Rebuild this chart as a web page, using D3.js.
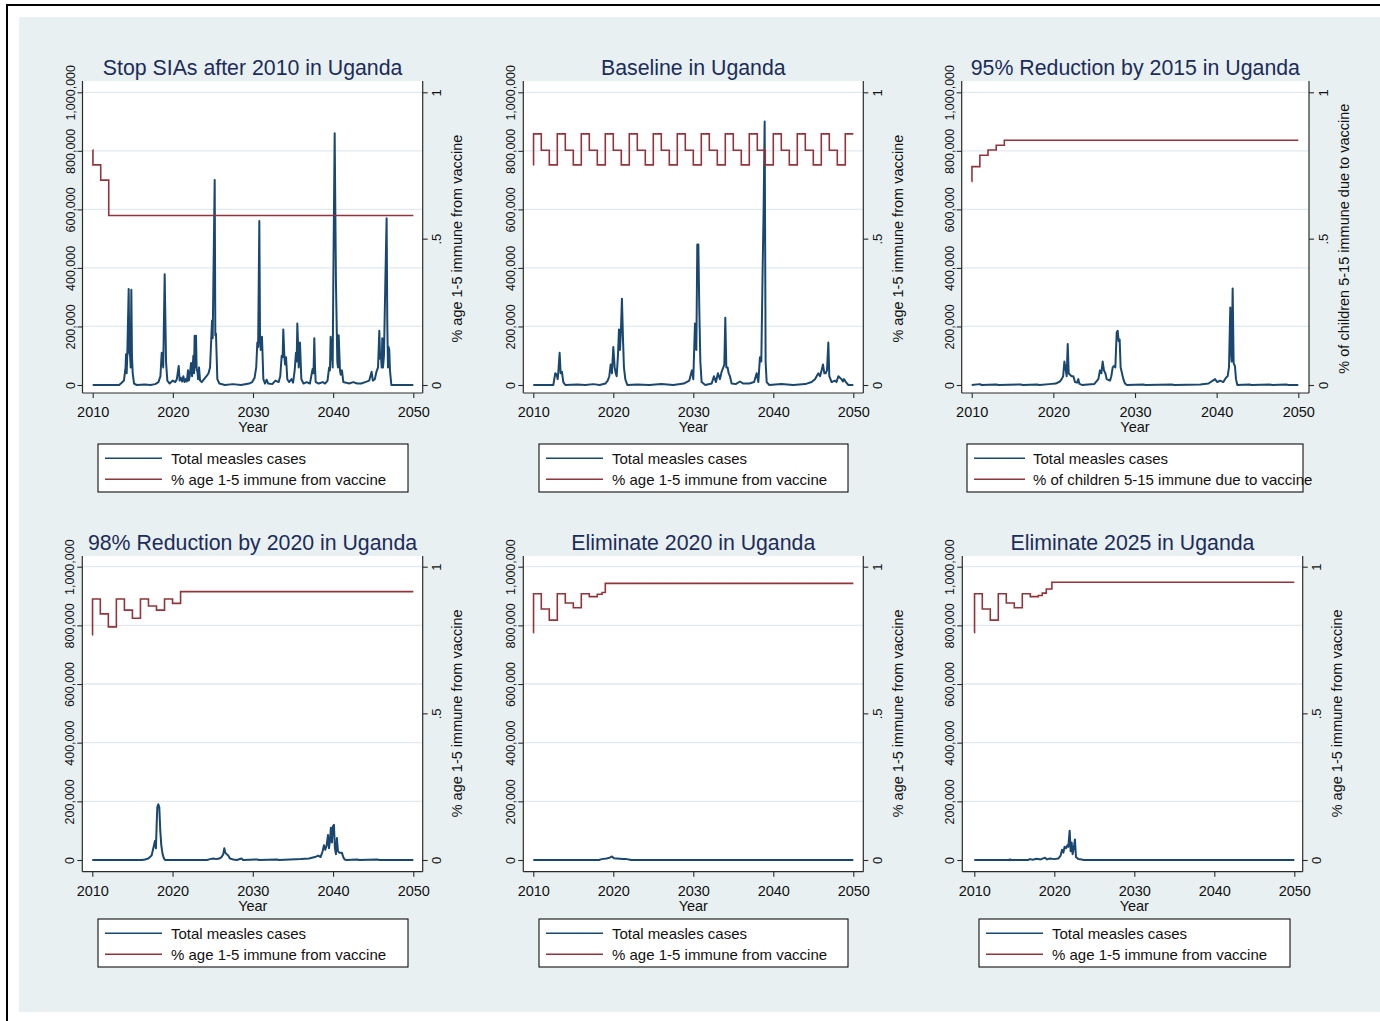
<!DOCTYPE html>
<html>
<head>
<meta charset="utf-8">
<script src="https://cdn.jsdelivr.net/npm/d3@7"></script>
<style>
  body { margin: 0; background: #fff; }
  text { font-family: "Liberation Sans", Arial, Helvetica, sans-serif; }
</style>
</head>
<body>
<svg id="chart" width="1380" height="1021"></svg>
<script>
// ---- axis ticks and labels ----
const yearTicks = [2010, 2020, 2030, 2040, 2050];
const caseTicks = [0, 200000, 400000, 600000, 800000, 1000000];
const shareTicks = [0, 0.5, 1];
const shareTickLabels = ["0", ".5", "1"];
const xAxisTitle = "Year";

const panelTitles = [
  "Stop SIAs after 2010 in Uganda",
  "Baseline in Uganda",
  "95% Reduction by 2015 in Uganda",
  "98% Reduction by 2020 in Uganda",
  "Eliminate 2020 in Uganda",
  "Eliminate 2025 in Uganda"
];
const casesLabel = "Total measles cases";
const immuneLabels = [
  "% age 1-5 immune from vaccine",
  "% age 1-5 immune from vaccine",
  "% of children 5-15 immune due to vaccine",
  "% age 1-5 immune from vaccine",
  "% age 1-5 immune from vaccine",
  "% age 1-5 immune from vaccine"
];

// ---- total measles cases, [year, cases] ----
const casesStopSIAs = [
  [2010,0],[2013.3,0],[2013.62,8000],[2013.9,15000],[2014.1,60000],[2014.16,105000],[2014.24,40000],
  [2014.32,110000],[2014.49,328000],[2014.57,110000],[2014.66,100000],[2014.74,60000],[2014.82,325000],
  [2014.9,100000],[2014.99,40000],[2015.16,5000],[2015.5,0],[2016.5,2000],[2017.2,0],[2017.8,3000],
  [2018.2,10000],[2018.45,30000],[2018.61,110000],[2018.8,60000],[2018.98,378000],[2019.15,80000],
  [2019.31,15000],[2019.6,5000],[2020.0,15000],[2020.3,10000],[2020.5,20000],[2020.73,65000],
  [2020.85,15000],[2021.0,25000],[2021.15,12000],[2021.31,30000],[2021.45,10000],[2021.6,20000],
  [2021.75,12000],[2021.89,50000],[2022.0,15000],[2022.1,30000],[2022.27,75000],[2022.4,30000],
  [2022.56,100000],[2022.64,40000],[2022.72,168000],[2022.8,60000],[2022.89,168000],[2022.97,50000],
  [2023.06,50000],[2023.15,20000],[2023.26,60000],[2023.4,15000],[2023.6,10000],[2023.9,20000],
  [2024.2,30000],[2024.45,40000],[2024.64,60000],[2024.78,150000],[2024.89,220000],[2024.97,160000],
  [2025.05,335000],[2025.22,700000],[2025.3,170000],[2025.38,175000],[2025.55,20000],[2025.8,5000],
  [2026.5,0],[2027.5,3000],[2028.5,0],[2029.5,5000],[2029.9,10000],[2030.2,25000],[2030.4,60000],
  [2030.54,145000],[2030.64,130000],[2030.79,560000],[2030.88,150000],[2030.96,120000],[2031.12,165000],
  [2031.29,20000],[2031.5,5000],[2031.7,18000],[2031.9,5000],[2032.4,3000],[2032.8,15000],
  [2033.2,10000],[2033.4,30000],[2033.58,100000],[2033.7,95000],[2033.78,190000],[2033.91,100000],
  [2034.0,70000],[2034.12,95000],[2034.28,20000],[2034.5,10000],[2034.8,20000],[2035.0,8000],
  [2035.2,50000],[2035.36,110000],[2035.45,80000],[2035.53,210000],[2035.62,140000],[2035.7,60000],
  [2035.78,140000],[2035.86,145000],[2036.03,20000],[2036.3,5000],[2036.7,10000],[2037.1,5000],
  [2037.44,55000],[2037.55,40000],[2037.65,160000],[2037.74,60000],[2037.82,10000],[2038.2,5000],
  [2038.7,10000],[2039.0,5000],[2039.3,15000],[2039.5,60000],[2039.6,50000],[2039.69,165000],
  [2039.86,100000],[2039.94,60000],[2040.02,355000],[2040.19,860000],[2040.27,600000],[2040.35,350000],
  [2040.52,80000],[2040.6,60000],[2040.69,170000],[2040.85,50000],[2040.95,35000],[2041.1,50000],
  [2041.27,10000],[2041.6,8000],[2042.0,5000],[2042.5,10000],[2043.0,5000],[2043.5,5000],
  [2044.0,10000],[2044.5,15000],[2044.8,45000],[2044.95,15000],[2045.2,20000],[2045.4,45000],
  [2045.6,60000],[2045.76,185000],[2045.86,90000],[2045.97,100000],[2046.05,60000],[2046.13,160000],
  [2046.22,60000],[2046.34,100000],[2046.51,350000],[2046.67,570000],[2046.76,200000],[2046.84,60000],
  [2046.92,130000],[2047.0,120000],[2047.09,50000],[2047.26,0],[2050,0]
];

const casesBaseline = [
  [2010,0],[2012.5,0],[2012.75,40000],[2012.92,35000],[2013.05,20000],[2013.13,45000],[2013.29,110000],
  [2013.42,40000],[2013.58,45000],[2013.75,10000],[2014.0,0],[2015.5,2000],[2016.5,0],[2017.5,3000],
  [2018.3,0],[2019.0,5000],[2019.3,15000],[2019.5,30000],[2019.67,70000],[2019.83,40000],[2020.0,130000],
  [2020.17,60000],[2020.3,40000],[2020.42,30000],[2020.58,100000],[2020.71,190000],[2020.83,120000],
  [2020.96,190000],[2021.08,295000],[2021.21,160000],[2021.33,60000],[2021.5,20000],[2021.75,0],
  [2023.0,2000],[2024.5,0],[2026.0,3000],[2027.5,0],[2028.8,5000],[2029.5,15000],[2029.83,50000],
  [2030.0,20000],[2030.21,210000],[2030.38,120000],[2030.5,480000],[2030.63,480000],[2030.75,260000],
  [2030.88,80000],[2031.04,10000],[2031.5,0],[2032.3,5000],[2032.58,30000],[2032.83,10000],
  [2033.08,40000],[2033.33,20000],[2033.54,45000],[2033.75,60000],[2033.88,70000],[2034.0,230000],
  [2034.13,60000],[2034.29,60000],[2034.42,40000],[2034.58,30000],[2034.79,5000],[2035.3,3000],
  [2035.83,12000],[2036.25,5000],[2037.0,5000],[2037.6,10000],[2037.92,40000],[2038.13,10000],
  [2038.33,95000],[2038.5,80000],[2038.67,400000],[2038.79,600000],[2038.92,900000],[2039.04,80000],
  [2039.17,10000],[2039.5,0],[2041.0,3000],[2042.5,0],[2044.0,3000],[2044.79,10000],[2045.21,20000],
  [2045.63,40000],[2045.85,30000],[2046.04,50000],[2046.21,70000],[2046.38,40000],[2046.54,40000],
  [2046.71,50000],[2046.88,145000],[2047.0,30000],[2047.29,10000],[2047.71,15000],[2047.9,10000],
  [2048.13,30000],[2048.33,25000],[2048.54,20000],[2048.7,12000],[2048.83,20000],[2049.08,10000],
  [2049.38,0],[2050,0]
];

const casesReduce2015 = [
  [2010,0],[2011.0,3000],[2011.2,0],[2013.0,2000],[2013.3,0],[2016.0,2000],[2016.3,0],[2018.0,2000],
  [2018.3,0],[2019.5,3000],[2020.3,5000],[2020.8,12000],[2021.02,20000],[2021.2,30000],[2021.35,80000],
  [2021.47,60000],[2021.63,30000],[2021.76,140000],[2021.88,40000],[2022.04,35000],[2022.24,30000],
  [2022.45,30000],[2022.65,10000],[2022.9,8000],[2023.06,20000],[2023.18,5000],[2023.5,0],
  [2025.0,3000],[2025.51,20000],[2025.71,50000],[2025.88,40000],[2026.04,80000],[2026.2,50000],
  [2026.37,40000],[2026.53,20000],[2026.94,15000],[2027.1,30000],[2027.27,60000],[2027.43,65000],
  [2027.59,60000],[2027.76,180000],[2027.88,185000],[2028.0,150000],[2028.12,155000],[2028.24,60000],
  [2028.41,40000],[2028.57,20000],[2028.78,5000],[2029.0,0],[2031.0,2000],[2031.3,0],[2034.5,2000],
  [2034.8,0],[2038.0,2000],[2039.0,5000],[2039.8,20000],[2040.08,10000],[2040.41,15000],[2040.82,10000],
  [2041.14,25000],[2041.35,30000],[2041.51,60000],[2041.67,265000],[2041.75,120000],[2041.84,80000],
  [2041.96,330000],[2042.08,75000],[2042.24,65000],[2042.37,20000],[2042.53,0],[2044.0,2000],
  [2044.3,0],[2046.5,2000],[2046.8,0],[2048.5,2000],[2048.8,0],[2050,0]
];

const casesReduce2020 = [
  [2010,0],[2016.2,0],[2016.56,2000],[2016.98,5000],[2017.39,15000],[2017.6,40000],[2017.81,65000],
  [2017.93,40000],[2018.02,120000],[2018.1,180000],[2018.22,190000],[2018.35,180000],[2018.47,100000],
  [2018.6,50000],[2018.76,20000],[2018.93,5000],[2019.09,0],[2024.3,0],[2024.66,3000],[2025.07,5000],
  [2025.49,3000],[2025.8,5000],[2026.11,10000],[2026.32,20000],[2026.45,40000],[2026.57,25000],
  [2026.74,20000],[2026.94,15000],[2027.15,5000],[2027.57,2000],[2028.0,0],[2028.6,5000],[2028.8,0],
  [2030.5,2000],[2030.8,0],[2033.0,2000],[2033.3,0],[2036.0,3000],[2037.0,5000],[2037.74,10000],
  [2038.16,15000],[2038.45,10000],[2038.7,30000],[2038.87,50000],[2039.03,35000],[2039.2,50000],
  [2039.37,85000],[2039.49,40000],[2039.61,65000],[2039.73,110000],[2039.86,60000],[2039.98,115000],
  [2040.11,120000],[2040.23,40000],[2040.36,20000],[2040.48,75000],[2040.61,30000],[2040.77,25000],
  [2040.94,25000],[2041.1,25000],[2041.27,10000],[2041.44,2000],[2041.7,0],[2043.0,2000],[2043.3,0],
  [2045.5,2000],[2045.8,0],[2050,0]
];

const casesElim2020 = [
  [2010,0],[2018.2,0],[2018.54,3000],[2019.17,5000],[2019.58,8000],[2019.83,12000],[2020.08,6000],
  [2020.42,5000],[2020.83,4000],[2021.25,3000],[2021.67,3000],[2022.08,1000],[2022.29,0],[2050,0]
];

const casesElim2025 = [
  [2010,0],[2014.3,0],[2014.46,2000],[2014.6,0],[2016.7,0],[2016.96,3000],[2017.3,1000],[2017.79,4000],
  [2018.3,2000],[2018.83,8000],[2019.1,2000],[2019.46,5000],[2020.0,3000],[2020.5,5000],[2020.79,15000],
  [2020.96,35000],[2021.13,25000],[2021.29,45000],[2021.46,40000],[2021.63,50000],[2021.75,45000],
  [2021.92,100000],[2022.04,30000],[2022.17,60000],[2022.29,20000],[2022.46,45000],[2022.58,70000],
  [2022.71,10000],[2023.0,3000],[2023.42,2000],[2023.63,0],[2050,0]
];

// ---- share immune from vaccine, [year, share] (step series) ----
const immuneStopSIAs = [[2010,0.803],[2010.03,0.752],[2011,0.70],[2012,0.579],[2050,0.579]];

const immuneBaseline = [
  [2010,0.752],[2010.03,0.858],[2011,0.802],[2012,0.752],[2013,0.858],[2014,0.802],[2015,0.752],
  [2016,0.858],[2017,0.802],[2018,0.752],[2019,0.858],[2020,0.802],[2021,0.752],[2022,0.858],
  [2023,0.802],[2024,0.752],[2025,0.858],[2026,0.802],[2027,0.752],[2028,0.858],[2029,0.802],
  [2030,0.752],[2031,0.858],[2032,0.802],[2033,0.752],[2034,0.858],[2035,0.802],[2036,0.752],
  [2037,0.858],[2038,0.802],[2039,0.752],[2040,0.858],[2041,0.802],[2042,0.752],[2043,0.858],
  [2044,0.802],[2045,0.752],[2046,0.858],[2047,0.802],[2048,0.752],[2049,0.858],[2050,0.858]
];

const immuneReduce2015 = [
  [2010,0.695],[2010.03,0.746],[2011,0.785],[2012,0.803],[2013,0.819],[2014,0.836],[2050,0.836]
];

const immuneReduce2020 = [
  [2010,0.767],[2010.03,0.890],[2011,0.839],[2012,0.795],[2013,0.890],[2014,0.852],[2015,0.824],
  [2016,0.890],[2017,0.866],[2018,0.852],[2019,0.890],[2020,0.875],[2021,0.915],[2050,0.915]
];

const immuneElim2020 = [
  [2010,0.775],[2010.03,0.908],[2011,0.856],[2012,0.818],[2013,0.908],[2014,0.876],[2015,0.860],
  [2016,0.908],[2017,0.898],[2018,0.906],[2018.6,0.912],[2019,0.943],[2050,0.943]
];

const immuneElim2025 = [
  [2010,0.775],[2010.03,0.908],[2011,0.856],[2012,0.818],[2013,0.908],[2014,0.876],[2015,0.860],
  [2016,0.908],[2017,0.898],[2018,0.902],[2018.5,0.910],[2019,0.924],[2019.7,0.947],[2050,0.947]
];

const casesSeries = [casesStopSIAs, casesBaseline, casesReduce2015, casesReduce2020, casesElim2020, casesElim2025];
const immuneSeries = [immuneStopSIAs, immuneBaseline, immuneReduce2015, immuneReduce2020, immuneElim2020, immuneElim2025];

// ---- styling ----
const NAVY = "#1a476f";
const MAROON = "#90353b";
const AXIS = "#2b2b2b";
const GRID = "#e1e9ed";
const BG = "#e8f0f2";
const TITLE = "#1c2c5a";

// ---- panel geometry (pixels) ----
const layout = [
  {left: 82.5, right: 422.7, x0: 92.7, x1: 413.3, top: 81, base: 393, y0: 385, y1: 92.3,
   leg: {x: 98, y: 444, w: 310, h: 48, ln: 7, len: 57, tx: 73}},
  {left: 523.3, right: 863.3, x0: 533.3, x1: 853.3, top: 81, base: 393, y0: 385, y1: 92.3,
   leg: {x: 539, y: 444, w: 309, h: 48, ln: 7, len: 57, tx: 73}},
  {left: 961.7, right: 1309, x0: 971.7, x1: 1298.3, top: 81, base: 393, y0: 385, y1: 92.3,
   leg: {x: 967, y: 444, w: 336, h: 48, ln: 7, len: 51, tx: 66}},
  {left: 82.3, right: 422.7, x0: 92.3, x1: 413.3, top: 556, base: 871.7, y0: 860, y1: 566.7,
   leg: {x: 98, y: 919, w: 310, h: 48, ln: 7, len: 57, tx: 73}},
  {left: 523.3, right: 863.3, x0: 533.3, x1: 853.3, top: 556, base: 871.7, y0: 860, y1: 566.7,
   leg: {x: 539, y: 919, w: 309, h: 48, ln: 7, len: 57, tx: 73}},
  {left: 962.3, right: 1302.7, x0: 974.3, x1: 1294.3, top: 556, base: 871.7, y0: 860, y1: 566.7,
   leg: {x: 979, y: 919, w: 311, h: 48, ln: 7, len: 57, tx: 73}}
];

const svg = d3.select("#chart");

// page frame and graph region
svg.append("rect").attr("x", 19).attr("y", 17).attr("width", 1361).attr("height", 995).attr("fill", BG);
svg.append("line").attr("x1", 7).attr("x2", 7).attr("y1", 4).attr("y2", 1021).attr("stroke", "#000").attr("stroke-width", 2);
svg.append("line").attr("x1", 6).attr("x2", 1380).attr("y1", 5).attr("y2", 5).attr("stroke", "#000").attr("stroke-width", 2);

function drawPanel(i) {
  const L = layout[i];
  const g = svg.append("g").attr("class", "panel");

  const x = d3.scaleLinear().domain([2010, 2050]).range([L.x0, L.x1]);
  const y = d3.scaleLinear().domain([0, 1e6]).range([L.y0, L.y1]);
  const y2 = d3.scaleLinear().domain([0, 1]).range([L.y0, L.y1]);

  // plot region
  g.append("rect").attr("x", L.left).attr("y", L.top)
    .attr("width", L.right - L.left).attr("height", L.base - L.top).attr("fill", "#fff");

  // horizontal grid on the cases axis
  g.selectAll("line.grid").data(caseTicks.filter(d => d > 0)).join("line")
    .attr("class", "grid")
    .attr("x1", L.left).attr("x2", L.right)
    .attr("y1", d => y(d)).attr("y2", d => y(d))
    .attr("stroke", GRID).attr("stroke-width", 1.3);

  // cases
  g.append("path").datum(casesSeries[i])
    .attr("d", d3.line().x(d => x(d[0])).y(d => y(d[1])))
    .attr("fill", "none").attr("stroke", NAVY).attr("stroke-width", 2)
    .attr("stroke-linejoin", "round");

  // immunity (step)
  g.append("path").datum(immuneSeries[i])
    .attr("d", d3.line().curve(d3.curveStepAfter).x(d => x(d[0])).y(d => y2(d[1])))
    .attr("fill", "none").attr("stroke", MAROON).attr("stroke-width", 1.6);

  // axis lines
  g.append("line").attr("x1", L.left).attr("x2", L.left).attr("y1", L.top).attr("y2", L.base)
    .attr("stroke", AXIS).attr("stroke-width", 1.2);
  g.append("line").attr("x1", L.right).attr("x2", L.right).attr("y1", L.top).attr("y2", L.base)
    .attr("stroke", AXIS).attr("stroke-width", 1.2);
  g.append("line").attr("x1", L.left).attr("x2", L.right).attr("y1", L.base).attr("y2", L.base)
    .attr("stroke", AXIS).attr("stroke-width", 1.2);

  // left axis: cases
  const axL = g.append("g").attr("transform", `translate(${L.left},0)`)
    .call(d3.axisLeft(y).tickValues(caseTicks).tickFormat(d3.format(",")).tickSize(5));
  axL.select(".domain").remove();
  axL.selectAll(".tick line").attr("stroke", AXIS).attr("stroke-width", 1.1);
  axL.selectAll(".tick text")
    .attr("transform", "rotate(-90)").attr("x", 0).attr("y", -8).attr("dy", null)
    .attr("text-anchor", "middle").attr("font-size", 12.5).attr("fill", "#111")
    .style("font-family", "'Liberation Sans', Arial, sans-serif");

  // right axis: share immune
  const axR = g.append("g").attr("transform", `translate(${L.right},0)`)
    .call(d3.axisRight(y2).tickValues(shareTicks).tickFormat((d, k) => shareTickLabels[k]).tickSize(5));
  axR.select(".domain").remove();
  axR.selectAll(".tick line").attr("stroke", AXIS).attr("stroke-width", 1.1);
  axR.selectAll(".tick text")
    .attr("transform", "rotate(-90)").attr("x", 0).attr("y", 18.5).attr("dy", null)
    .attr("text-anchor", "middle").attr("font-size", 13).attr("fill", "#111")
    .style("font-family", "'Liberation Sans', Arial, sans-serif");

  // right axis title
  g.append("text")
    .attr("transform", `translate(${L.right + 39.5},${(L.y0 + L.y1) / 2}) rotate(-90)`)
    .attr("text-anchor", "middle").attr("font-size", 14.5).attr("fill", "#111")
    .text(immuneLabels[i]);

  // bottom axis: years
  const axB = g.append("g").attr("transform", `translate(0,${L.base})`)
    .call(d3.axisBottom(x).tickValues(yearTicks).tickFormat(d3.format("d")).tickSize(5));
  axB.select(".domain").remove();
  axB.selectAll(".tick line").attr("stroke", AXIS).attr("stroke-width", 1.1);
  axB.selectAll(".tick text")
    .attr("y", 24.3).attr("dy", null)
    .attr("font-size", 14.5).attr("fill", "#111")
    .style("font-family", "'Liberation Sans', Arial, sans-serif");

  g.append("text")
    .attr("x", (L.x0 + L.x1) / 2).attr("y", L.base + 39.3)
    .attr("text-anchor", "middle").attr("font-size", 14.5).attr("fill", "#111")
    .text(xAxisTitle);

  // panel title
  g.append("text")
    .attr("x", (L.left + L.right) / 2).attr("y", L.top - 6)
    .attr("text-anchor", "middle").attr("font-size", 21.3).attr("fill", TITLE)
    .text(panelTitles[i]);

  // legend
  const lg = L.leg;
  const leg = g.append("g").attr("transform", `translate(${lg.x},${lg.y})`);
  leg.append("rect").attr("width", lg.w).attr("height", lg.h)
    .attr("fill", "#fff").attr("stroke", "#111").attr("stroke-width", 1.1);
  const entries = [
    {label: casesLabel, color: NAVY, dy: 14.3},
    {label: immuneLabels[i], color: MAROON, dy: 35.3}
  ];
  entries.forEach(e => {
    leg.append("line").attr("x1", lg.ln).attr("x2", lg.ln + lg.len)
      .attr("y1", e.dy).attr("y2", e.dy)
      .attr("stroke", e.color).attr("stroke-width", 1.6);
    leg.append("text").attr("x", lg.tx).attr("y", e.dy + 5.5)
      .attr("font-size", 15).attr("fill", "#111").text(e.label);
  });
}

for (let i = 0; i < 6; i++) drawPanel(i);
</script>
</body>
</html>
